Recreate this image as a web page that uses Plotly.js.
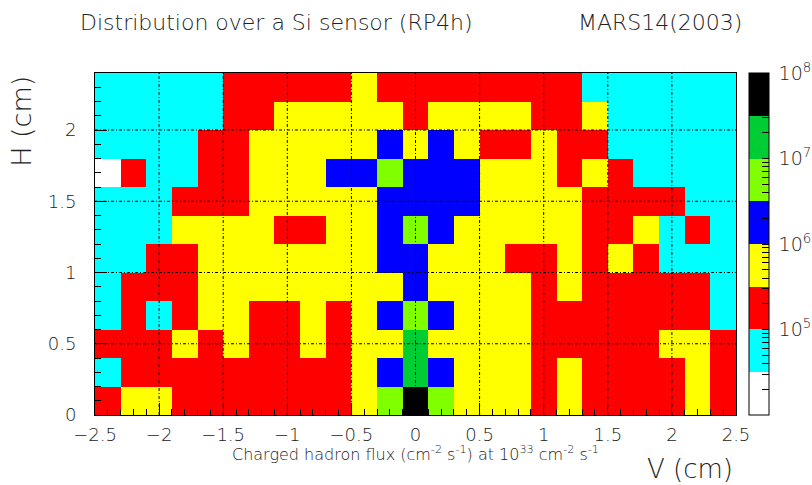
<!DOCTYPE html>
<html>
<head>
<meta charset="utf-8">
<script src="https://cdn.plot.ly/plotly-3.0.1.min.js"></script>
<style>
  html, body { margin: 0; padding: 0; background: #ffffff; }
  #chart { width: 812px; height: 485px; }
</style>
</head>
<body>
<div id="chart"></div>
<script>
// Bin centres of the sensor map (cm): 25 bins in V, 12 bins in H
const vCenters = [-2.4, -2.2, -2.0, -1.8, -1.6, -1.4, -1.2, -1.0, -0.8, -0.6, -0.4, -0.2,
                  0.0, 0.2, 0.4, 0.6, 0.8, 1.0, 1.2, 1.4, 1.6, 1.8, 2.0, 2.2, 2.4];
const hCenters = [0.1, 0.3, 0.5, 0.7, 0.9, 1.1, 1.3, 1.5, 1.7, 1.9, 2.1, 2.3];

// Charged hadron flux (cm^-2 s^-1) per bin, one array per H row, V from left to right
const fluxH01 = [1.6e5, 3.7e5, 3.9e5, 1.8e5, 2.0e5, 2.1e5, 2.3e5, 2.4e5, 2.6e5, 2.9e5, 4.8e5, 3.6e6, 4.2e7, 3.9e6, 5.1e5, 4.2e5, 3.6e5, 2.8e5, 3.3e5, 2.4e5, 2.2e5, 2.0e5, 1.9e5, 3.4e5, 1.7e5];
const fluxH03 = [8.5e4, 1.3e5, 1.5e5, 1.6e5, 1.8e5, 1.9e5, 2.1e5, 2.2e5, 2.5e5, 2.8e5, 5.6e5, 2.2e6, 1.5e7, 2.1e6, 5.2e5, 4.1e5, 3.5e5, 2.7e5, 3.4e5, 2.3e5, 2.0e5, 1.8e5, 1.5e5, 3.3e5, 1.4e5];
const fluxH05 = [1.5e5, 1.9e5, 2.6e5, 3.4e5, 2.9e5, 3.5e5, 2.7e5, 2.9e5, 3.4e5, 3.0e5, 5.4e5, 9.1e5, 1.2e7, 8.6e5, 5.0e5, 4.0e5, 3.5e5, 2.9e5, 2.6e5, 2.3e5, 2.1e5, 2.5e5, 3.3e5, 3.4e5, 1.8e5];
const fluxH07 = [9.0e4, 1.1e5, 9.4e4, 1.8e5, 3.3e5, 3.5e5, 2.9e5, 3.0e5, 3.3e5, 3.0e5, 6.3e5, 1.7e6, 3.5e6, 1.6e6, 6.1e5, 4.4e5, 3.6e5, 2.9e5, 2.5e5, 2.2e5, 2.0e5, 1.8e5, 1.5e5, 1.2e5, 8.8e4];
const fluxH09 = [8.2e4, 1.2e5, 1.6e5, 2.7e5, 3.6e5, 4.0e5, 3.8e5, 3.9e5, 4.3e5, 4.9e5, 6.4e5, 9.6e5, 1.3e6, 8.9e5, 5.6e5, 4.2e5, 3.4e5, 2.8e5, 3.2e5, 2.4e5, 2.1e5, 1.8e5, 1.5e5, 1.2e5, 9.0e4];
const fluxH11 = [7.1e4, 8.9e4, 1.4e5, 2.3e5, 3.4e5, 3.9e5, 4.1e5, 4.3e5, 4.6e5, 5.2e5, 6.8e5, 1.1e6, 1.5e6, 9.2e5, 5.3e5, 3.6e5, 2.9e5, 2.7e5, 3.4e5, 2.3e5, 3.3e5, 1.9e5, 9.4e4, 7.6e4, 6.2e4];
const fluxH13 = [6.4e4, 7.5e4, 9.6e4, 3.3e5, 3.8e5, 4.0e5, 3.5e5, 2.9e5, 3.0e5, 4.6e5, 7.1e5, 1.2e6, 3.3e6, 1.1e6, 6.2e5, 4.9e5, 4.2e5, 3.9e5, 3.4e5, 2.6e5, 2.2e5, 3.3e5, 9.1e4, 1.1e5, 7.2e4];
const fluxH15 = [6.1e4, 7.3e4, 9.5e4, 1.4e5, 2.2e5, 2.9e5, 3.6e5, 4.1e5, 4.7e5, 5.8e5, 8.3e5, 1.4e6, 1.8e6, 1.5e6, 1.1e6, 7.4e5, 5.3e5, 4.1e5, 3.3e5, 2.8e5, 2.3e5, 1.8e5, 1.2e5, 8.6e4, 6.5e4];
const fluxH17 = [2.8e4, 1.1e5, 8.0e4, 9.5e4, 1.6e5, 2.7e5, 3.5e5, 4.3e5, 5.9e5, 1.1e6, 1.6e6, 3.4e6, 2.3e6, 1.8e6, 1.2e6, 8.1e5, 5.4e5, 3.5e5, 2.9e5, 3.2e5, 1.6e5, 9.7e4, 8.1e4, 7.0e4, 5.8e4];
const fluxH19 = [5.9e4, 6.6e4, 7.4e4, 9.3e4, 1.5e5, 2.4e5, 3.3e5, 4.0e5, 4.6e5, 5.5e5, 7.3e5, 1.1e6, 9.4e5, 1.2e6, 6.3e5, 2.9e5, 2.8e5, 3.5e5, 2.3e5, 1.6e5, 9.8e4, 8.3e4, 7.2e4, 6.6e4, 5.9e4];
const fluxH21 = [5.4e4, 6.0e4, 6.7e4, 7.6e4, 9.2e4, 1.6e5, 2.6e5, 3.3e5, 3.6e5, 3.9e5, 4.2e5, 3.7e5, 2.9e5, 3.8e5, 4.0e5, 3.6e5, 3.3e5, 2.4e5, 2.0e5, 3.2e5, 9.6e4, 8.0e4, 7.1e4, 6.3e4, 5.6e4];
const fluxH23 = [5.0e4, 5.6e4, 6.2e4, 7.0e4, 8.7e4, 1.3e5, 1.8e5, 2.3e5, 2.7e5, 3.0e5, 3.3e5, 3.0e5, 2.6e5, 2.8e5, 2.9e5, 3.0e5, 2.7e5, 2.2e5, 1.6e5, 9.6e4, 8.4e4, 7.4e4, 6.6e4, 5.9e4, 5.2e4];

const fluxRows = [fluxH01, fluxH03, fluxH05, fluxH07, fluxH09, fluxH11,
                  fluxH13, fluxH15, fluxH17, fluxH19, fluxH21, fluxH23];

// Colour levels: eight half-decade bands from 1e4 to 1e8
const levelColors = ['#ffffff', '#00ffff', '#ff0000', '#ffff00',
                     '#0000ff', '#80ff00', '#00cc33', '#000000'];
const logMin = 4, logMax = 8;
const labelledDecades = [5, 6, 7, 8];

// Major tick / grid positions
const vTicks = [-2, -1.5, -1, -0.5, 0, 0.5, 1, 1.5, 2];
const hTicks = [0.5, 1, 1.5, 2];

const FONT = 'DejaVu Sans, Liberation Sans, sans-serif';
const INK = '#222222';
const LIGHT = 200;

// stepped colour scale
const colorscale = [];
levelColors.forEach((c, i) => {
  colorscale.push([i / levelColors.length, c]);
  colorscale.push([(i + 1) / levelColors.length, c]);
});

// log-scale ticks for the colour bar (1..9 x 10^n)
const cbLabel = d => '\u2005' + '10<sup>' + d + '</sup>';
const cbVals = [], cbText = [];
for (let d = logMin; d < logMax; d++) {
  for (let m = 1; m <= 9; m++) {
    cbVals.push(d + Math.log10(m));
    cbText.push(m === 1 && labelledDecades.includes(d) ? cbLabel(d) : '');
  }
}
cbVals.push(logMax);
cbText.push(cbLabel(logMax));

const zLog = fluxRows.map(r => r.map(v => Math.log10(v)));

const trace = {
  type: 'heatmap',
  x: vCenters,
  y: hCenters,
  z: zLog,
  zmin: logMin,
  zmax: logMax,
  zsmooth: false,
  colorscale: colorscale,
  hoverinfo: 'skip',
  colorbar: {
    x: 1.0203, xanchor: 'left', xpad: 0,
    y: 0.5, yanchor: 'middle', ypad: 0,
    len: 1, lenmode: 'fraction',
    thickness: 20, thicknessmode: 'pixels',
    outlinewidth: 1, outlinecolor: '#000000',
    tickmode: 'array', tickvals: cbVals, ticktext: cbText,
    ticks: 'inside', ticklen: 7, tickwidth: 1, tickcolor: '#000000',
    tickfont: { family: FONT, size: 19, color: INK, weight: LIGHT }
  }
};

// dash-dot grid drawn on top of the cells
const gridLine = { color: '#000000', width: 1, dash: '3px,2px,1px,2px' };
const shapes = [];
vTicks.forEach(v => shapes.push({ type: 'line', layer: 'above', xref: 'x', yref: 'paper',
  x0: v, x1: v, y0: 0, y1: 1, line: gridLine }));
hTicks.forEach(h => shapes.push({ type: 'line', layer: 'above', xref: 'paper', yref: 'y',
  x0: 0, x1: 1, y0: h, y1: h, line: gridLine }));

const axisCommon = {
  showgrid: false, zeroline: false,
  showline: true, mirror: true, linecolor: '#000000', linewidth: 1,
  ticks: 'inside', ticklen: 12, tickwidth: 1, tickcolor: '#000000',
  tickfont: { family: FONT, size: 18, color: INK, weight: LIGHT },
  layer: 'above traces'
};

const layout = {
  width: 812, height: 485,
  margin: { l: 95, r: 76, t: 73, b: 70, pad: 0, autoexpand: false },
  paper_bgcolor: '#ffffff', plot_bgcolor: '#ffffff',
  font: { family: FONT, color: INK },
  showlegend: false,
  title: {
    text: 'Distribution over a Si sensor (RP4h)',
    font: { family: FONT, size: 22, color: INK, weight: LIGHT },
    xref: 'container', yref: 'container',
    x: 80 / 812, xanchor: 'left', y: 1 - 22 / 485, yanchor: 'middle'
  },
  xaxis: Object.assign({}, axisCommon, {
    range: [-2.5, 2.5], tick0: 0, dtick: 0.5,
    ticklabelstandoff: 3,
    minor: { ticks: 'inside', ticklen: 6, tickcolor: '#000000', dtick: 0.1, tick0: 0, showgrid: false }
  }),
  yaxis: Object.assign({}, axisCommon, {
    range: [0, 2.4], tick0: 0, dtick: 0.5,
    ticklabelstandoff: 14,
    minor: { ticks: 'inside', ticklen: 6, tickcolor: '#000000', dtick: 0.1, tick0: 0, showgrid: false }
  }),
  shapes: shapes,
  annotations: [
    { text: 'MARS14(2003)', xref: 'paper', yref: 'paper', x: 0.7504, y: 1.149,
      xanchor: 'left', yanchor: 'middle', showarrow: false,
      font: { family: FONT, size: 22, color: INK, weight: LIGHT } },
    { text: 'H (cm)', xref: 'paper', yref: 'paper', x: -0.114, y: 0.86,
      xanchor: 'center', yanchor: 'middle', textangle: -90, showarrow: false,
      font: { family: FONT, size: 27, color: INK, weight: LIGHT } },
    { text: 'V (cm)', xref: 'paper', yref: 'paper', x: 0.998, y: -0.157,
      xanchor: 'right', yanchor: 'middle', showarrow: false,
      font: { family: FONT, size: 26, color: INK, weight: LIGHT } },
    { text: 'Charged hadron flux (cm<sup>-2</sup> s<sup>-1</sup>) at 10<sup>33</sup> cm<sup>-2</sup> s<sup>-1</sup>',
      xref: 'paper', yref: 'paper', x: 0.5, y: -0.113,
      xanchor: 'center', yanchor: 'middle', showarrow: false,
      font: { family: FONT, size: 16, color: INK, weight: LIGHT } }
  ]
};

Plotly.newPlot('chart', [trace], layout, { displayModeBar: false, staticPlot: true });
</script>
</body>
</html>
